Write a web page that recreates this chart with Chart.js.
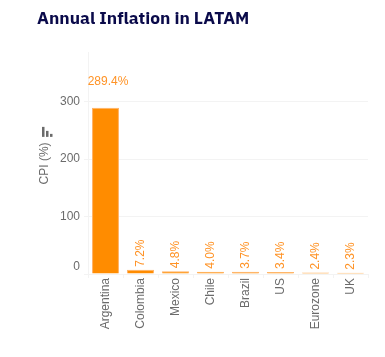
<!DOCTYPE html>
<html><head><meta charset="utf-8">
<style>html,body{margin:0;padding:0;background:#fff}#w{position:relative;width:385px;height:357px}</style>
<script src="https://cdn.jsdelivr.net/npm/chart.js@4"></script>
</head><body><div id="w"><canvas id="c" width="385" height="357"></canvas></div>
<script>
const categories=['Argentina','Colombia','Mexico','Chile','Brazil','US','Eurozone','UK'];
const cpiValues=[289.4,7.2,4.8,4.0,3.7,3.4,2.4,2.3];
const valueLabels=['289.4%','7.2%','4.8%','4.0%','3.7%','3.4%','2.4%','2.3%'];
const yTicks=[0,100,200,300];
const ORANGE='#ff8c00',LABEL='#ff9326',TEXT='#6b6b6b',GRID='#f3f3f3';
const FONT='"Liberation Sans",Arial,sans-serif';
const barLabels={id:'barLabels',afterDatasetsDraw(chart){
  const ctx=chart.ctx,meta=chart.getDatasetMeta(0);
  ctx.save();ctx.fillStyle=LABEL;ctx.font='12px '+FONT;
  meta.data.forEach((b,i)=>{
    ctx.save();
    if(i===0){ctx.textAlign='center';ctx.textBaseline='middle';ctx.fillText(valueLabels[i],b.x+2.5,b.y-26);}
    else{ctx.translate(b.x,b.y-3);ctx.rotate(-Math.PI/2);ctx.textAlign='left';ctx.textBaseline='middle';ctx.fillText(valueLabels[i],0,0);}
    ctx.restore();
  });
  ctx.fillStyle=TEXT;
  const t=chart.scales.y.top;
  ctx.fillRect(42,t+74,2.5,10);ctx.fillRect(46,t+78,2.5,6);ctx.fillRect(50,t+81,2.5,3);
  ctx.restore();}};
new Chart(document.getElementById('c'),{type:'bar',
 data:{labels:categories,datasets:[{data:cpiValues,backgroundColor:ORANGE,borderColor:'#ffb266',borderWidth:1,barPercentage:0.77,categoryPercentage:1}]},
 plugins:[barLabels],
 options:{responsive:false,animation:false,
  layout:{padding:{left:37,right:17,top:9,bottom:0}},
  plugins:{legend:{display:false},tooltip:{enabled:false},
   title:{display:true,text:'Annual Inflation in LATAM',align:'start',color:'#0a0a4a',font:{family:'"IBM Plex Sans","Noto Sans",sans-serif',size:17.4,weight:'bold'},padding:{top:0,bottom:23}}},
  scales:{
   x:{grid:{color:GRID,drawOnChartArea:false,drawTicks:true,tickLength:4,tickColor:GRID},border:{color:GRID},
      ticks:{color:TEXT,font:{family:FONT,size:12},maxRotation:90,minRotation:90,padding:0},
      afterFit(s){s.height=83;}},
   y:{min:0,max:385,afterBuildTicks(s){s.ticks=yTicks.map(v=>({value:v}));},
      grid:{color:GRID,tickLength:4,tickColor:GRID},border:{color:GRID},
      ticks:{color:TEXT,font:{family:FONT,size:12},padding:4,callback:v=>v===0?['0','']:String(v)},
      title:{display:true,text:'CPI (%)',color:TEXT,font:{family:FONT,size:12},padding:{top:0,bottom:0}},
      afterFit(s){s.width=51;}}
  }}});
</script></body></html>
